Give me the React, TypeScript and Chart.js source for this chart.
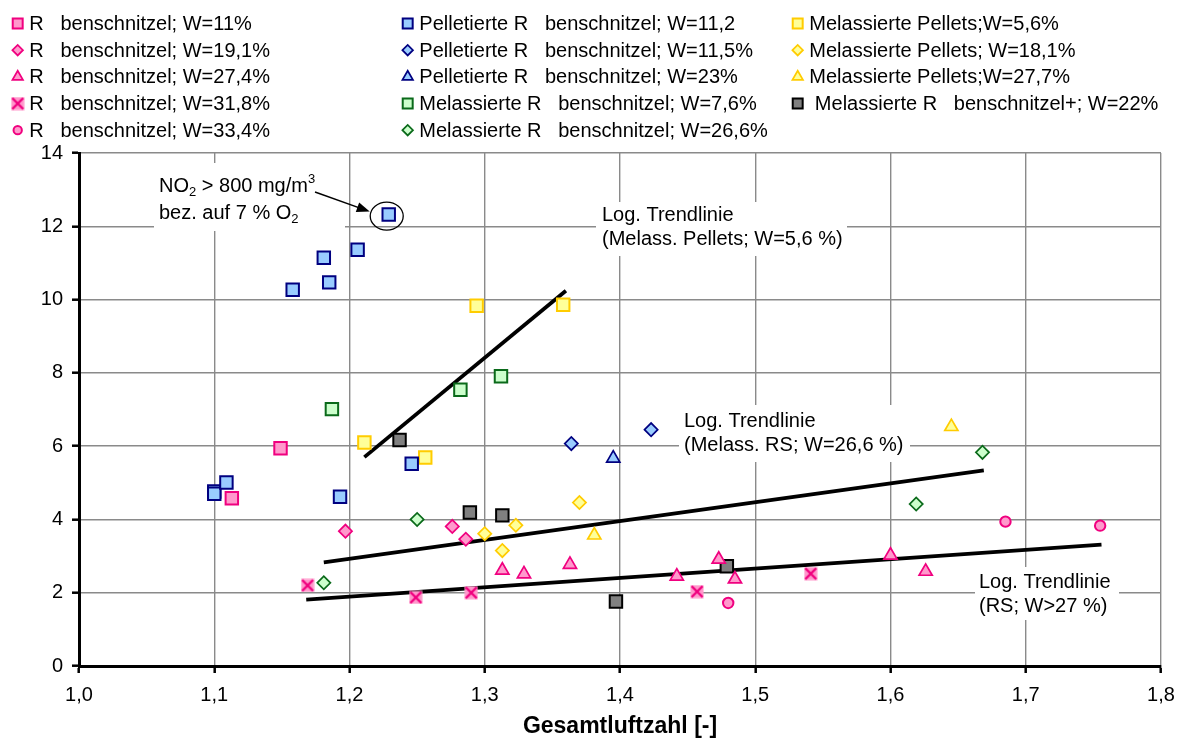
import React, { useEffect, useRef } from 'react';
import { Chart, registerables } from 'chart.js';
import { drawPoint } from 'chart.js/helpers';

Chart.register(...registerables);

const FONT = '"Liberation Sans", Arial, Helvetica, sans-serif';

// ---------------- data ----------------
const seriesLabels = [
  'R   benschnitzel; W=11%',
  'R   benschnitzel; W=19,1%',
  'R   benschnitzel; W=27,4%',
  'R   benschnitzel; W=31,8%',
  'R   benschnitzel; W=33,4%',
  'Pelletierte R   benschnitzel; W=11,2',
  'Pelletierte R   benschnitzel; W=11,5%',
  'Pelletierte R   benschnitzel; W=23%',
  'Melassierte R   benschnitzel; W=7,6%',
  'Melassierte R   benschnitzel; W=26,6%',
  'Melassierte Pellets;W=5,6%',
  'Melassierte Pellets; W=18,1%',
  'Melassierte Pellets;W=27,7%',
  ' Melassierte R   benschnitzel+; W=22%',
];

const rs11X = [1.149, 1.113];
const rs11Y = [5.94, 4.58];
const rs191X = [1.197, 1.276, 1.286];
const rs191Y = [3.68, 3.81, 3.46];
const rs274X = [1.313, 1.329, 1.363, 1.442, 1.473, 1.485, 1.600, 1.626];
const rs274Y = [2.61, 2.51, 2.77, 2.45, 2.91, 2.37, 3.02, 2.58];
const rs318X = [1.169, 1.249, 1.290, 1.457, 1.541];
const rs318Y = [2.20, 1.87, 2.00, 2.03, 2.52];
const rs334X = [1.480, 1.685, 1.755];
const rs334Y = [1.72, 3.94, 3.83];
const pel112X = [1.229, 1.206, 1.181, 1.185, 1.158, 1.100, 1.100, 1.109, 1.193, 1.246];
const pel112Y = [12.32, 11.36, 11.14, 10.47, 10.27, 4.76, 4.70, 5.01, 4.62, 5.52];
const pel115X = [1.364, 1.423];
const pel115Y = [6.07, 6.45];
const pel23X = [1.395];
const pel23Y = [5.67];
const melRs76X = [1.187, 1.282, 1.312];
const melRs76Y = [7.01, 7.54, 7.91];
const melRs266X = [1.250, 1.181, 1.619, 1.668];
const melRs266Y = [4.00, 2.27, 4.42, 5.83];
const melPel56X = [1.211, 1.256, 1.294, 1.358];
const melPel56Y = [6.10, 5.69, 9.83, 9.86];
const melPel181X = [1.300, 1.323, 1.313, 1.370];
const melPel181Y = [3.61, 3.84, 3.15, 4.46];
const melPel277X = [1.381, 1.645];
const melPel277Y = [3.57, 6.53];
const melRsPlusX = [1.237, 1.289, 1.313, 1.397, 1.479];
const melRsPlusY = [6.17, 4.19, 4.11, 1.76, 2.72];

// logarithmic trend lines (end points)
const trendPelX = [1.211, 1.360];
const trendPelY = [5.70, 10.24];
const trendMelRsX = [1.181, 1.669];
const trendMelRsY = [2.83, 5.34];
const trendRsX = [1.168, 1.756];
const trendRsY = [1.81, 3.31];

const xTickValues = [1.0, 1.1, 1.2, 1.3, 1.4, 1.5, 1.6, 1.7, 1.8];
const yTickValues = [0, 2, 4, 6, 8, 10, 12, 14];
const xAxisTitle = 'Gesamtluftzahl [-]';

const noteLine1: [string, string][] = [['NO', 'n'], ['2', 'sub'], [' > 800 mg/m', 'n'], ['3', 'sup']];
const noteLine2: [string, string][] = [['bez. auf 7 % O', 'n'], ['2', 'sub']];
const trendLabelPel = ['Log. Trendlinie', '(Melass. Pellets; W=5,6 %)'];
const trendLabelMelRs = ['Log. Trendlinie', '(Melass. RS; W=26,6 %)'];
const trendLabelRs = ['Log. Trendlinie', '(RS; W>27 %)'];

// ---------------- styles ----------------
const PINK = { b: '#F0007F', f: '#FF99CC' };
const BLUE = { b: '#000080', f: '#99CCFF' };
const GREEN = { b: '#0A6A1A', f: '#CCFFCC' };
const YELLOW = { b: '#FFCC00', f: '#FFFF99' };
const GRAY = { b: '#000000', f: '#808080' };

const PLOT_RIGHT = 1161;

const xy = (xs: number[], ys: number[]) => xs.map((x, i) => ({ x, y: ys[i] }));

function makeXBox() {
  const c = document.createElement('canvas');
  c.width = 14;
  c.height = 14;
  const g = c.getContext('2d')!;
  g.fillStyle = PINK.f;
  g.fillRect(0.5, 0.5, 13, 13);
  g.strokeStyle = PINK.b;
  g.lineWidth = 2.4;
  g.beginPath();
  g.moveTo(1.5, 1.5);
  g.lineTo(12.5, 12.5);
  g.moveTo(12.5, 1.5);
  g.lineTo(1.5, 12.5);
  g.stroke();
  return c;
}

function pointSet(label: string, xs: number[], ys: number[], style: any, col: { b: string; f: string }) {
  let radius = 8.8;
  let bw = 2;
  if (style === 'rectRot') { radius = 6.6; bw = 1.7; }
  if (style === 'triangle') { radius = 7.6; bw = 1.7; }
  if (style === 'circle') { radius = 5.2; bw = 2; }
  if (typeof style !== 'string') { radius = 7; bw = 0; }
  return {
    label,
    data: xy(xs, ys),
    pointStyle: style,
    pointRadius: radius,
    pointBorderWidth: bw,
    pointBackgroundColor: col.f,
    pointBorderColor: col.b,
    showLine: false,
  };
}

function trendSet(xs: number[], ys: number[]) {
  return {
    label: '',
    data: xy(xs, ys),
    showLine: true,
    borderColor: '#000',
    borderWidth: 3.8,
    pointRadius: 0,
    fill: false,
  };
}

const legendCols = [[0, 1, 2, 3, 4], [5, 6, 7, 8, 9], [10, 11, 12, 13]];
const legendColX = [17.7, 407.7, 797.7];

const legendPlugin = {
  id: 'excelLegend',
  afterDraw(chart: any) {
    const ctx = chart.ctx;
    ctx.save();
    legendCols.forEach((col, ci) => {
      col.forEach((di, ri) => {
        const ds = chart.data.datasets[di];
        const x = legendColX[ci];
        const y = 23.5 + ri * 26.67;
        ctx.fillStyle = ds.pointBackgroundColor;
        ctx.strokeStyle = ds.pointBorderColor;
        ctx.lineWidth = ds.pointBorderWidth;
        const isImg = typeof ds.pointStyle !== 'string';
        drawPoint(ctx, {
          pointStyle: ds.pointStyle,
          radius: isImg ? ds.pointRadius : ds.pointRadius * 0.8,
          rotation: 0,
          borderWidth: ds.pointBorderWidth,
        } as any, x, y);
        ctx.fillStyle = '#000';
        ctx.font = `20px ${FONT}`;
        ctx.textBaseline = 'middle';
        ctx.textAlign = 'left';
        ctx.fillText(ds.label, x + 11.6, y + 1);
      });
    });
    ctx.restore();
  },
};

function drawRich(ctx: CanvasRenderingContext2D, parts: [string, string][], x: number, y: number) {
  let cx = x;
  for (const [t, k] of parts) {
    ctx.font = k === 'n' ? `20px ${FONT}` : `13px ${FONT}`;
    const dy = k === 'sub' ? 6 : k === 'sup' ? -7 : 0;
    ctx.fillText(t, cx, y + dy);
    cx += ctx.measureText(t).width;
  }
  return cx;
}

function whiteBox(ctx: CanvasRenderingContext2D, x0: number, y0: number, x1: number, y1: number) {
  ctx.fillStyle = '#fff';
  ctx.fillRect(x0, y0, x1 - x0, y1 - y0);
}

const notesPlugin = {
  id: 'notes',
  beforeDatasetsDraw(chart: any) {
    const ctx: CanvasRenderingContext2D = chart.ctx;
    ctx.save();
    ctx.textBaseline = 'middle';
    ctx.textAlign = 'left';
    // NO2 note
    whiteBox(ctx, 154, 163, 345, 231);
    ctx.fillStyle = '#000';
    drawRich(ctx, noteLine1, 159, 186);
    drawRich(ctx, noteLine2, 159, 213);
    // trend labels
    const boxes: [string[], number, number, number, number, number, number][] = [
      [trendLabelPel, 596, 202, 847, 256, 602, 215],
      [trendLabelMelRs, 679, 405, 910, 462, 684, 421],
      [trendLabelRs, 975, 567, 1119, 620, 979, 582],
    ];
    for (const [lines, x0, y0, x1, y1, tx, ty] of boxes) {
      whiteBox(ctx, x0, y0, x1, y1);
      ctx.fillStyle = '#000';
      ctx.font = `20px ${FONT}`;
      lines.forEach((l, i) => ctx.fillText(l, tx, ty + i * 24.5));
    }
    ctx.restore();
  },
  afterDatasetsDraw(chart: any) {
    const ctx: CanvasRenderingContext2D = chart.ctx;
    const xs = chart.scales.x;
    const ys = chart.scales.y;
    const px = xs.getPixelForValue(pel112X[0]);
    const py = ys.getPixelForValue(pel112Y[0]);
    ctx.save();
    ctx.strokeStyle = '#000';
    ctx.lineWidth = 1.3;
    ctx.beginPath();
    ctx.ellipse(px - 2, py + 1.5, 16.5, 14, 0, 0, Math.PI * 2);
    ctx.stroke();
    // arrow
    const sx = 315, sy = 192;
    const ex = px - 19, ey = py - 3;
    const ang = Math.atan2(ey - sy, ex - sx);
    ctx.lineWidth = 1.5;
    ctx.beginPath();
    ctx.moveTo(sx, sy);
    ctx.lineTo(ex - Math.cos(ang) * 8, ey - Math.sin(ang) * 8);
    ctx.stroke();
    ctx.fillStyle = '#000';
    ctx.beginPath();
    ctx.moveTo(ex, ey);
    ctx.lineTo(ex - Math.cos(ang) * 13 + Math.sin(ang) * 5, ey - Math.sin(ang) * 13 - Math.cos(ang) * 5);
    ctx.lineTo(ex - Math.cos(ang) * 13 - Math.sin(ang) * 5, ey - Math.sin(ang) * 13 + Math.cos(ang) * 5);
    ctx.closePath();
    ctx.fill();
    ctx.restore();
  },
};

export default function App() {
  const ref = useRef<HTMLCanvasElement>(null);
  useEffect(() => {
    const canvas = ref.current!;
    const xBox = makeXBox();
    const datasets: any[] = [
      pointSet(seriesLabels[0], rs11X, rs11Y, 'rect', PINK),
      pointSet(seriesLabels[1], rs191X, rs191Y, 'rectRot', PINK),
      pointSet(seriesLabels[2], rs274X, rs274Y, 'triangle', PINK),
      pointSet(seriesLabels[3], rs318X, rs318Y, xBox, PINK),
      pointSet(seriesLabels[4], rs334X, rs334Y, 'circle', PINK),
      pointSet(seriesLabels[5], pel112X, pel112Y, 'rect', BLUE),
      pointSet(seriesLabels[6], pel115X, pel115Y, 'rectRot', BLUE),
      pointSet(seriesLabels[7], pel23X, pel23Y, 'triangle', BLUE),
      pointSet(seriesLabels[8], melRs76X, melRs76Y, 'rect', GREEN),
      pointSet(seriesLabels[9], melRs266X, melRs266Y, 'rectRot', GREEN),
      pointSet(seriesLabels[10], melPel56X, melPel56Y, 'rect', YELLOW),
      pointSet(seriesLabels[11], melPel181X, melPel181Y, 'rectRot', YELLOW),
      pointSet(seriesLabels[12], melPel277X, melPel277Y, 'triangle', YELLOW),
      pointSet(seriesLabels[13], melRsPlusX, melRsPlusY, 'rect', GRAY),
      trendSet(trendPelX, trendPelY),
      trendSet(trendMelRsX, trendMelRsY),
      trendSet(trendRsX, trendRsY),
    ];
    Chart.defaults.font.family = FONT;
    Chart.defaults.color = '#000';
    const chart = new Chart(canvas, {
      type: 'scatter',
      data: { datasets },
      options: {
        animation: false,
        responsive: false,
        events: [],
        layout: { padding: { top: 153, right: 18, bottom: 0, left: 0 } },
        plugins: { legend: { display: false }, tooltip: { enabled: false } },
        scales: {
          x: {
            type: 'linear',
            min: 1.0,
            max: 1.8,
            afterBuildTicks: (s: any) => { s.ticks = xTickValues.map((v) => ({ value: v })); },
            afterFit: (s: any) => { s.height = 72; s.paddingRight = 0; s.paddingLeft = 0; },
            ticks: {
              font: { size: 20 },
              padding: 10,
              maxRotation: 0,
              autoSkip: false,
              callback: (v: any) => Number(v).toFixed(1).replace('.', ','),
            },
            grid: { color: '#8a8a8a', lineWidth: 1.4, tickColor: '#000', tickWidth: 2.5, tickLength: 7 },
            border: { color: '#000', width: 3 },
            title: { display: true, text: xAxisTitle, font: { size: 23, weight: 'bold', lineHeight: 1 }, padding: { top: 0, bottom: 0 } },
          },
          y: {
            type: 'linear',
            min: 0,
            max: 14,
            afterBuildTicks: (s: any) => { s.ticks = yTickValues.map((v) => ({ value: v })); },
            afterFit: (s: any) => { s.width = 79; s.paddingTop = 0; s.paddingBottom = 0; },
            ticks: { font: { size: 20 }, padding: 9, autoSkip: false },
            grid: { color: '#8a8a8a', lineWidth: 1.4, tickColor: '#000', tickWidth: 2.5, tickLength: 7 },
            border: { color: '#000', width: 3 },
          },
        },
      },
      plugins: [notesPlugin, legendPlugin],
    } as any);
    // correct the right edge of the plot area to match the reference layout
    const diff = PLOT_RIGHT - chart.chartArea.right;
    if (Math.abs(diff) > 0.5) {
      const pad = (chart.options as any).layout.padding;
      pad.right = Math.max(0, pad.right - diff);
      chart.update();
    }
    return () => chart.destroy();
  }, []);
  return (
    <div style={{ position: 'fixed', left: 0, top: 0, width: 1179, height: 738, background: '#fff' }}>
      <canvas ref={ref} width={1179} height={738} style={{ display: 'block', width: 1179, height: 738 }} />
    </div>
  );
}
